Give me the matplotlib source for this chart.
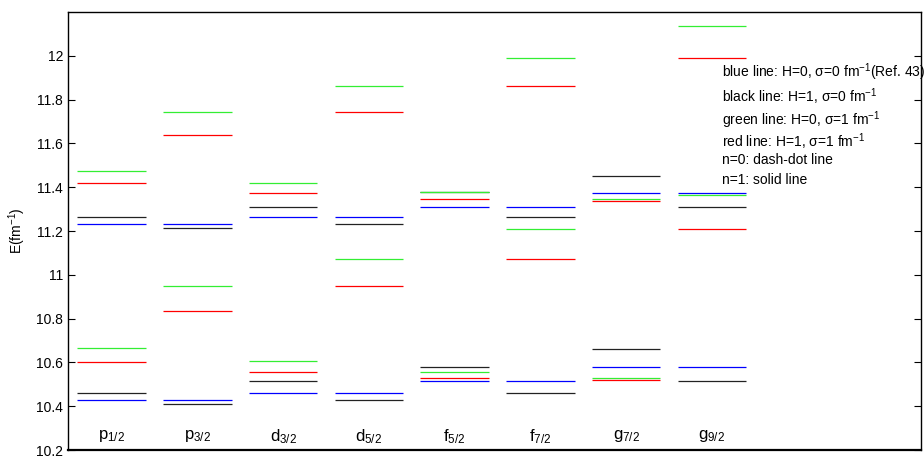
import numpy as np
import matplotlib
matplotlib.use('Agg')
import matplotlib.pyplot as plt
from matplotlib.ticker import FuncFormatter

plt.rcParams['font.family'] = ['Liberation Sans', 'DejaVu Sans']
plt.rcParams['mathtext.fontset'] = 'custom'
plt.rcParams['mathtext.rm'] = 'Liberation Sans'
plt.rcParams['mathtext.it'] = 'Liberation Sans'
plt.rcParams['mathtext.default'] = 'regular'

# single-particle states and energy levels (fm^-1), two levels per state
states = ['p$_{1/2}$', 'p$_{3/2}$', 'd$_{3/2}$', 'd$_{5/2}$',
          'f$_{5/2}$', 'f$_{7/2}$', 'g$_{7/2}$', 'g$_{9/2}$']

blue_levels = [[10.428, 11.233], [10.429, 11.231], [10.461, 11.263], [10.461, 11.263],
               [10.513, 11.311], [10.513, 11.311], [10.578, 11.374], [10.578, 11.374]]
black_levels = [[10.460, 11.262], [10.412, 11.215], [10.513, 11.311], [10.429, 11.230],
                [10.578, 11.378], [10.461, 11.262], [10.659, 11.449], [10.513, 11.311]]
green_levels = [[10.665, 11.475], [10.947, 11.743], [10.606, 11.417], [11.070, 11.862],
                [10.557, 11.376], [11.209, 11.989], [10.530, 11.347], [11.365, 12.134]]
red_levels = [[10.604, 11.417], [10.836, 11.638], [10.557, 11.374], [10.947, 11.743],
              [10.530, 11.348], [11.070, 11.862], [10.519, 11.338], [11.209, 11.989]]

legend_lines = ['blue line: H=0, \u03c3=0 fm$^{-1}$(Ref. 43)',
                'black line: H=1, \u03c3=0 fm$^{-1}$',
                'green line: H=0, \u03c3=1 fm$^{-1}$',
                'red line: H=1, \u03c3=1 fm$^{-1}$',
                'n=0: dash-dot line',
                'n=1: solid line']

fig = plt.figure(figsize=(9.24, 4.58), dpi=100)
ax = fig.add_axes([68 / 924, 1 - 450 / 458, (921 - 68) / 924, (450 - 12) / 458])

width = 0.8
series = [(blue_levels, '#0000ff'), (black_levels, '#222222'),
          (green_levels, '#33ee33'), (red_levels, '#ff0000')]
for levels, color in series:
    for i, vals in enumerate(levels):
        ax.hlines(vals, i, i + width, colors=color, linewidth=0.9)

for i, name in enumerate(states):
    ax.text(i + width / 2, 10.262, name, ha='center', va='center', fontsize=12)

ax.set_xlim(-0.11, 9.84)
ax.set_ylim(10.2, 12.2)
ax.set_yticks(np.arange(10.2, 12.01, 0.2))
ax.yaxis.set_major_formatter(FuncFormatter(lambda v, p: f'{round(v, 1):g}'))
ax.set_xticks([])
ax.tick_params(axis='y', direction='in', right=True, length=5, labelsize=10)
for sp in ax.spines.values():
    sp.set_linewidth(1.0)
ax.spines['bottom'].set_linewidth(1.6)

ax.set_ylabel('E(fm$^{-1}$)', fontsize=10, labelpad=6)

ys = [72, 97, 120, 142, 160, 180]
for txt, y in zip(legend_lines, ys):
    fig.text(722 / 924, 1 - y / 458, txt, ha='left', va='center', fontsize=10)

fig.savefig('out.png', dpi=100)
